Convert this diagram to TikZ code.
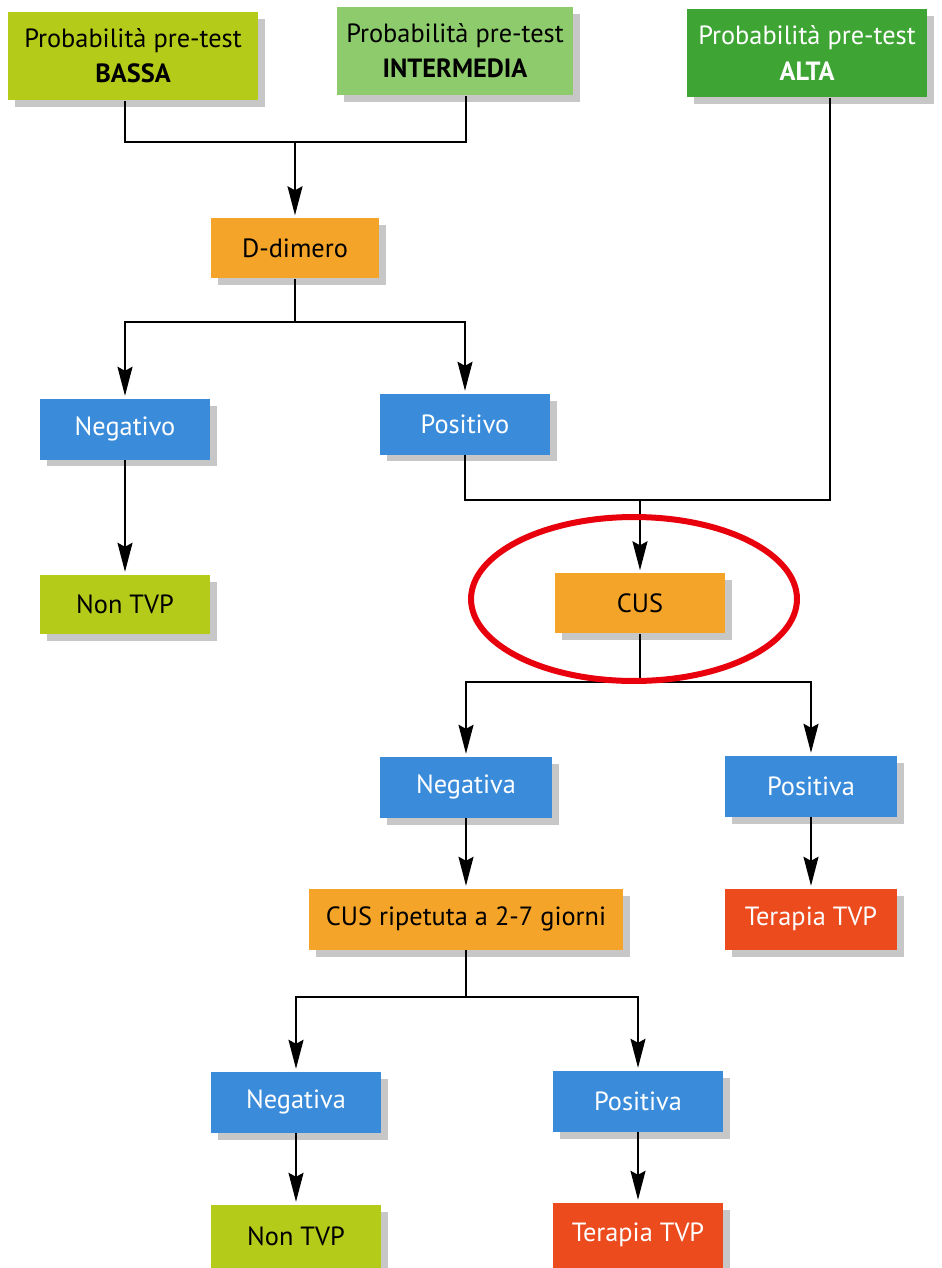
\documentclass[tikz,border=0pt]{standalone}
\usepackage{fontspec}
\setmainfont{PT Sans}
\usetikzlibrary{arrows.meta,shadows}
\definecolor{lowgreen}{HTML}{B4CB1A}
\definecolor{midgreen}{HTML}{8DCB6C}
\definecolor{highgreen}{HTML}{3EA535}
\definecolor{testorange}{HTML}{F4A428}
\definecolor{resblue}{HTML}{3A8CDB}
\definecolor{therapyred}{HTML}{EC4B1D}
\definecolor{markred}{HTML}{E8000C}

\begin{document}
\begin{tikzpicture}[x=0.02cm,y=-0.02cm,
  box/.style={rectangle,inner sep=0pt,minimum width=3.4cm,minimum height=1.22cm,
    font=\fontsize{15}{20}\selectfont,align=center,
    drop shadow={shadow xshift=0.14cm,shadow yshift=-0.14cm,fill=black!22,opacity=1}},
  prob node/.style={box,minimum height=1.77cm},
  test node/.style={box,fill=testorange,text=black},
  res node/.style={box,fill=resblue,text=white},
  non node/.style={box,fill=lowgreen,text=black,minimum height=1.18cm},
  tvp node/.style={box,fill=therapyred,text=white,minimum width=3.46cm},
  arr/.style={-{Stealth[length=0.58cm,width=0.3cm,inset=0.08cm]},shorten >=1pt},
  line width=1.1pt]
  \useasboundingbox (0,0) rectangle (942,1268);
  % pre-test probability
  \node[prob node,fill=lowgreen,text=black,minimum width=5cm] (bassa) at (133,56) {Probabilità pre-test\\\textbf{BASSA}};
  \node[prob node,fill=midgreen,text=black,minimum width=4.72cm] (intermedia) at (455,51) {Probabilità pre-test\\\textbf{INTERMEDIA}};
  \node[prob node,fill=highgreen,text=white,minimum width=4.82cm] (alta) at (807,53) {Probabilità pre-test\\\textbf{ALTA}};

  \node[test node,minimum width=3.38cm,minimum height=1.2cm] (ddimero) at (295,248) {D-dimero};
  \node[res node] (negativo) at (125,429) {Negativo};
  \node[res node] (positivo) at (465,424) {Positivo};
  \node[non node] (nontvp) at (125,604) {Non TVP};

  \node[test node,minimum height=1.2cm] (cus) at (640,603) {CUS};
  \node[res node,minimum width=3.46cm] (negativa) at (466,787) {Negativa};
  \node[res node,minimum width=3.46cm] (positiva) at (811,786) {Positiva};
  \node[test node,minimum width=6.3cm] (cusrip) at (466,919) {CUS ripetuta a 2-7 giorni};
  \node[tvp node] (terapia) at (811,919) {Terapia TVP};

  \node[res node,minimum width=3.42cm] (negativa2) at (296,1102) {Negativa};
  \node[res node,minimum width=3.42cm] (positiva2) at (638,1101) {Positiva};
  \node[non node,minimum width=3.42cm,minimum height=1.26cm] (nontvp2) at (296,1236) {Non TVP};
  \node[tvp node,minimum width=3.42cm,minimum height=1.3cm] (terapia2) at (638,1235) {Terapia TVP};

  % junctions
  \coordinate (j1) at (295,142);
  \coordinate (j2) at (295,322);
  \coordinate (j3) at (640,500);
  \coordinate (j4) at (640,682);
  \coordinate (j5) at (466,997);

  \draw ([xshift=-0.16cm]bassa.south) |- (j1) -| ([xshift=0.22cm]intermedia.south);
  \draw[arr] (j1) -- (ddimero.north);
  \draw (ddimero.south) -- (j2);
  \draw[arr] (j2) -| (negativo.north);
  \draw[arr] (j2) -| (positivo.north);
  \draw[arr] (negativo.south) -- (nontvp.north);

  \draw (positivo.south) |- (j3);
  \draw ([xshift=0.46cm]alta.south) |- (j3);
  \draw[arr] (j3) -- (cus.north);
  \draw (cus.south) -- (j4);
  \draw[arr] (j4) -| (negativa.north);
  \draw[arr] (j4) -| (positiva.north);
  \draw[arr] (negativa.south) -- (cusrip.north);
  \draw[arr] (positiva.south) -- (terapia.north);

  \draw (cusrip.south) -- (j5);
  \draw[arr] (j5) -| (negativa2.north);
  \draw[arr] (j5) -| (positiva2.north);
  \draw[arr] (negativa2.south) -- (nontvp2.north);
  \draw[arr] (positiva2.south) -- (terapia2.north);

  % highlight
  \draw[markred,line width=0.12cm] (634,599) ellipse [x radius=3.26cm,y radius=1.64cm];
\end{tikzpicture}
\end{document}
